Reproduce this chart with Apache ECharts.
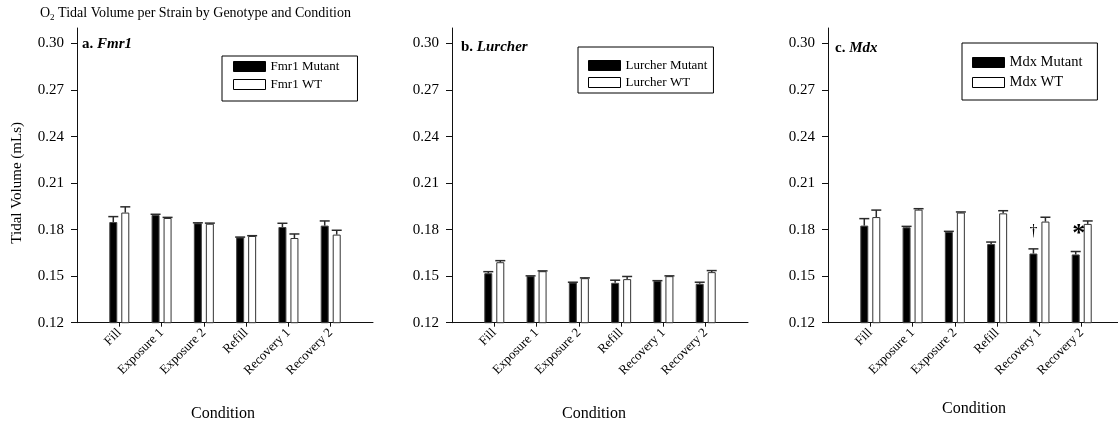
<!DOCTYPE html>
<html>
<head>
<meta charset="utf-8">
<script src="https://cdn.jsdelivr.net/npm/echarts@6/dist/echarts.min.js"></script>
<style>
html, body { margin: 0; padding: 0; background: #fff; overflow: hidden; }
/* wider than the window on purpose: panel c's axis runs off the right edge */
#chart { width: 1130px; height: 425px; }
</style>
</head>
<body>
<div id="chart"></div>
<script>
const conditions = ['Fill', 'Exposure 1', 'Exposure 2', 'Refill', 'Recovery 1', 'Recovery 2']
const yTicks = [0.12, 0.15, 0.18, 0.21, 0.24, 0.27, 0.30]

const fmr1Mutant    = [0.1849, 0.1894, 0.1841, 0.1750, 0.1817, 0.1826]
const fmr1MutantErr = [0.0035, 0.0005, 0.0003, 0.0002, 0.0024, 0.0030]
const fmr1Wt        = [0.1910, 0.1875, 0.1838, 0.1759, 0.1746, 0.1768]
const fmr1WtErr     = [0.0037, 0.0004, 0.0004, 0.0002, 0.0026, 0.0028]

const lurcherMutant    = [0.1519, 0.1500, 0.1459, 0.1457, 0.1469, 0.1451]
const lurcherMutantErr = [0.0010, 0.0002, 0.0002, 0.0017, 0.0002, 0.0010]
const lurcherWt        = [0.1590, 0.1532, 0.1487, 0.1481, 0.1500, 0.1526]
const lurcherWtErr     = [0.0010, 0.0002, 0.0002, 0.0017, 0.0002, 0.0010]

const mdxMutant    = [0.1826, 0.1815, 0.1785, 0.1707, 0.1646, 0.1640]
const mdxMutantErr = [0.0045, 0.0006, 0.0004, 0.0013, 0.0030, 0.0019]
const mdxWt        = [0.1881, 0.1929, 0.1910, 0.1905, 0.1852, 0.1837]
const mdxWtErr     = [0.0045, 0.0006, 0.0004, 0.0017, 0.0028, 0.0019]
const mdxMarks     = ['', '', '', '', '†', '*']

const FONT = '"Liberation Serif", "Times New Roman", serif'

// layout per panel
const panels = [
  { letter: 'a.', strain: 'Fmr1', mutant: fmr1Mutant, mutantErr: fmr1MutantErr, wt: fmr1Wt, wtErr: fmr1WtErr, marks: null,
    left: 77, labelX: 82, labelY: 37, condX: 223, condY: 406,
    legend: { left: 222, top: 56, padding: [4, 18, 10, 11], fontSize: 13, itemGap: 5 } },
  { letter: 'b.', strain: 'Lurcher', mutant: lurcherMutant, mutantErr: lurcherMutantErr, wt: lurcherWt, wtErr: lurcherWtErr, marks: null,
    left: 452, labelX: 461, labelY: 40, condX: 594, condY: 406,
    legend: { left: 578, top: 47, padding: [12, 6, 4, 10], fontSize: 13, itemGap: 4 } },
  { letter: 'c.', strain: 'Mdx', mutant: mdxMutant, mutantErr: mdxMutantErr, wt: mdxWt, wtErr: mdxWtErr, marks: mdxMarks,
    left: 828, labelX: 835, labelY: 41, condX: 974, condY: 401,
    legend: { left: 962, top: 43, padding: [12, 15, 10, 10], fontSize: 14.5, itemGap: 5 } },
]

const GRID_TOP = 28
const GRID_H = 294.7
const GRID_W = 296
const axisCats = [''].concat(conditions, [''])
const pad = arr => ['-'].concat(arr, ['-'])

function errorSeries(values, errs, gi, dx) {
  return {
    type: 'custom', xAxisIndex: gi, yAxisIndex: gi, silent: true, z: 3,
    data: values.map((v, i) => [i + 1, v, errs[i]]),
    renderItem(params, api) {
      const base = api.coord([api.value(0), api.value(1)])
      const top = api.coord([api.value(0), api.value(1) + api.value(2)])
      const x = base[0] + dx
      const st = { stroke: '#2a2a2a', lineWidth: 1.5 }
      return {
        type: 'group',
        children: [
          { type: 'line', shape: { x1: x, y1: base[1], x2: x, y2: top[1] }, style: st },
          { type: 'line', shape: { x1: x - 5, y1: top[1], x2: x + 5, y2: top[1] }, style: st },
        ],
      }
    },
  }
}

const grid = [], xAxis = [], yAxis = [], series = [], legend = [], graphic = []

panels.forEach((p, gi) => {
  const mName = p.strain + ' Mutant'
  const wName = p.strain + ' WT'
  grid.push({ left: p.left, top: GRID_TOP, width: GRID_W, height: GRID_H })
  xAxis.push({
    type: 'category', gridIndex: gi, data: axisCats, boundaryGap: false,
    axisLine: { lineStyle: { color: '#111', width: 1 } },
    axisTick: { length: 4, interval: (idx, v) => v !== '', lineStyle: { color: '#111' } },
    axisLabel: { interval: 0, rotate: 45, margin: 8, fontSize: 13, color: '#000', fontFamily: FONT },
    splitLine: { show: false },
  })
  yAxis.push({
    type: 'value', gridIndex: gi, min: 0.12, max: 0.31,
    axisLine: { show: true, lineStyle: { color: '#111', width: 1 } },
    axisTick: { show: true, length: 6, customValues: yTicks, lineStyle: { color: '#111' } },
    axisLabel: { customValues: yTicks, margin: 13, fontSize: 15, color: '#000', fontFamily: FONT,
      formatter: v => v.toFixed(2) },
    splitLine: { show: false },
  })
  const mutData = pad(p.mutant.map((v, i) => {
    if (p.marks && p.marks[i]) {
      const star = p.marks[i] === '*'
      return { value: v, label: { show: true, position: 'top', formatter: p.marks[i],
        fontFamily: FONT, color: '#000', fontSize: star ? 26 : 16, fontWeight: star ? 'bold' : 'normal',
        distance: star ? 8 : 12, offset: star ? [3, 1] : [0, -2] } }
    }
    return v
  }))
  series.push({
    name: mName, type: 'bar', xAxisIndex: gi, yAxisIndex: gi, barWidth: 8, barGap: '50%',
    data: mutData, itemStyle: { color: '#000', borderColor: '#444', borderWidth: 1 },
  })
  series.push({
    name: wName, type: 'bar', xAxisIndex: gi, yAxisIndex: gi, barWidth: 8, barGap: '50%',
    data: pad(p.wt), itemStyle: { color: '#fff', borderColor: '#333', borderWidth: 1 },
  })
  series.push(errorSeries(p.mutant, p.mutantErr, gi, -6))
  series.push(errorSeries(p.wt, p.wtErr, gi, 6))

  legend.push({
    orient: 'vertical', left: p.legend.left, top: p.legend.top, padding: p.legend.padding,
    itemGap: p.legend.itemGap, itemWidth: 32, itemHeight: 10, icon: 'rect',
    borderColor: '#000', borderWidth: 1, selectedMode: false,
    textStyle: { fontFamily: FONT, fontSize: p.legend.fontSize, color: '#000' },
    data: [
      { name: mName, itemStyle: { color: '#000', borderColor: '#000', borderWidth: 1 } },
      { name: wName, itemStyle: { color: '#fff', borderColor: '#000', borderWidth: 1 } },
    ],
  })

  graphic.push({
    type: 'text', left: p.labelX, top: p.labelY,
    style: {
      text: '{b|' + p.letter + ' }{bi|' + p.strain + '}',
      rich: {
        b: { fontFamily: FONT, fontWeight: 'bold', fontSize: 15, fill: '#000' },
        bi: { fontFamily: FONT, fontWeight: 'bold', fontStyle: 'italic', fontSize: 15, fill: '#000' },
      },
    },
  })
  graphic.push({
    type: 'text', left: p.condX - 32, top: p.condY,
    style: { text: 'Condition', font: '16px ' + FONT, fill: '#000' },
  })
})

graphic.push({
  type: 'text', left: 40, top: 5,
  style: {
    text: '{n|O}{s|2}{n| Tidal Volume per Strain by Genotype and Condition}',
    rich: {
      n: { fontFamily: FONT, fontSize: 14, fill: '#000', lineHeight: 20 },
      s: { fontFamily: FONT, fontSize: 9, fill: '#000', lineHeight: 20, padding: [8, 0, 0, 0] },
    },
  },
})
graphic.push({
  type: 'text', left: 10, top: 122, rotation: Math.PI / 2,
  style: { text: 'Tidal Volume (mLs)', font: '15px ' + FONT, fill: '#000' },
})

const chart = echarts.init(document.getElementById('chart'), null, { renderer: 'canvas' })
chart.setOption({
  animation: false,
  backgroundColor: '#fff',
  textStyle: { fontFamily: FONT },
  grid, xAxis, yAxis, series, legend, graphic,
})
</script>
</body>
</html>
